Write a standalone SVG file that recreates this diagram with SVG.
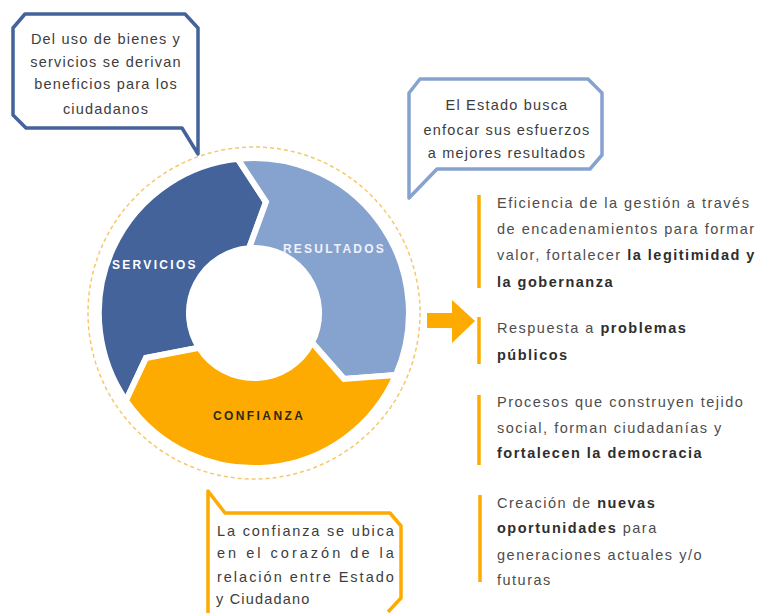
<svg xmlns="http://www.w3.org/2000/svg" width="762" height="613" viewBox="0 0 762 613">
<style>
.t{font-family:"Liberation Sans",Arial,sans-serif;font-size:14.5px;letter-spacing:1.5px;fill:#4d4d4d}
.b{font-weight:bold;fill:#2e2e2e}
.bt{font-family:"Liberation Sans",Arial,sans-serif;font-size:14.5px;letter-spacing:1.2px;fill:#3d3d3d}
.lab{font-family:"Liberation Sans",Arial,sans-serif;font-size:12px;font-weight:bold}
.seg{stroke:#fff;stroke-width:6;stroke-linejoin:miter}
.bar{stroke:#fdab00;stroke-width:3.5}
</style>
<rect width="762" height="613" fill="#fff"/>
<g id="cycle">
<circle cx="254" cy="313" r="166" fill="none" stroke="#f6c86a" stroke-width="1.5" stroke-dasharray="4 3"/>
<path id="servicios" class="seg" fill="#44639a" d="M126,400.6 A155,155 0 0 1 237.7,158.8 L266,202 L249.1,248.2 A65,65 0 0 0 199,347.7 L146,358 Z"/>
<path id="resultados" class="seg" fill="#86a3cf" d="M237.7,158.8 A155,155 0 0 1 396,375 L344,379 L312,342.5 A65,65 0 0 0 249.1,248.2 L266,202 Z"/>
<path id="confianza" class="seg" fill="#fdab00" d="M396,375 A155,155 0 0 1 126,400.6 L146,358 L199,347.7 A65,65 0 0 0 312,342.5 L344,379 Z"/>
<text class="lab" x="112" y="269" fill="#ffffff" letter-spacing="2.3">SERVICIOS</text>
<text class="lab" x="283" y="253" fill="#eef2fa" letter-spacing="2.2">RESULTADOS</text>
<text class="lab" x="213" y="420" fill="#2b2a1e" letter-spacing="2.4">CONFIANZA</text>
</g>
<g id="bubble1">
<polygon points="25,14 185,14 198,28 198,154 182,128 26,128 13,115 13,28" fill="#fff" stroke="#44639a" stroke-width="3.5" stroke-linejoin="round"/>
<text class="bt" text-anchor="middle"><tspan x="106" y="44">Del uso de bienes y</tspan><tspan x="106" y="67">servicios se derivan</tspan><tspan x="106" y="89">beneficios para los</tspan><tspan x="106" y="114">ciudadanos</tspan></text>
</g>
<g id="bubble2">
<polygon points="420,79 588,79 602,93 602,155 590,169 437,169 409,198 409,93" fill="#fff" stroke="#86a3cf" stroke-width="3.5" stroke-linejoin="round"/>
<text class="bt" text-anchor="middle" letter-spacing="0.9"><tspan x="507" y="110">El Estado busca</tspan><tspan x="507" y="135">enfocar sus esfuerzos</tspan><tspan x="507" y="158">a mejores resultados</tspan></text>
</g>
<g id="bubble3">
<polyline points="208,613 208,491 225,513 390,513 401,526 401,598 388,612" fill="none" stroke="#fdab00" stroke-width="3.5" stroke-linejoin="round"/>
<text class="bt" letter-spacing="0"><tspan x="217" y="536" textLength="178" lengthAdjust="spacing">La confianza se ubica</tspan></text>
<text class="bt" letter-spacing="0"><tspan x="217" y="558" textLength="178" lengthAdjust="spacing">en el corazón de la</tspan></text>
<text class="bt" letter-spacing="0"><tspan x="217" y="582" textLength="178" lengthAdjust="spacing">relación entre Estado</tspan></text>
<text class="bt" letter-spacing="0.8"><tspan x="216" y="604">y Ciudadano</tspan></text>
</g>
<g id="connectors">
<polygon id="arrow" points="427,313 452,313 452,300 475,321 452,343 452,328 427,328" fill="#fdab00"/>
</g>
<g id="item1">
<line class="bar" x1="479" y1="195" x2="479" y2="288"/>
<text class="t"><tspan x="497" y="208">Eficiencia de la gestión a través</tspan><tspan x="497" y="234">de encadenamientos para formar</tspan><tspan x="497" y="260">valor, fortalecer <tspan class="b">la legitimidad y</tspan></tspan><tspan x="497" y="287" class="b">la gobernanza</tspan></text>
</g>
<g id="item2">
<line class="bar" x1="479" y1="317" x2="479" y2="364"/>
<text class="t"><tspan x="497" y="333">Respuesta a <tspan class="b">problemas</tspan></tspan><tspan x="497" y="360" class="b">públicos</tspan></text>
</g>
<g id="item3">
<line class="bar" x1="479" y1="395" x2="479" y2="465"/>
<text class="t"><tspan x="497" y="407">Procesos que construyen tejido</tspan><tspan x="497" y="433">social, forman ciudadanías y</tspan><tspan x="497" y="458" class="b">fortalecen la democracia</tspan></text>
</g>
<g id="item4">
<line class="bar" x1="480" y1="495" x2="480" y2="582" stroke-width="2.5"/>
<text class="t"><tspan x="497" y="508">Creación de <tspan class="b">nuevas</tspan></tspan><tspan x="497" y="533"><tspan class="b">oportunidades</tspan> para</tspan><tspan x="497" y="560">generaciones actuales y/o</tspan><tspan x="497" y="585">futuras</tspan></text>
</g>
</svg>
